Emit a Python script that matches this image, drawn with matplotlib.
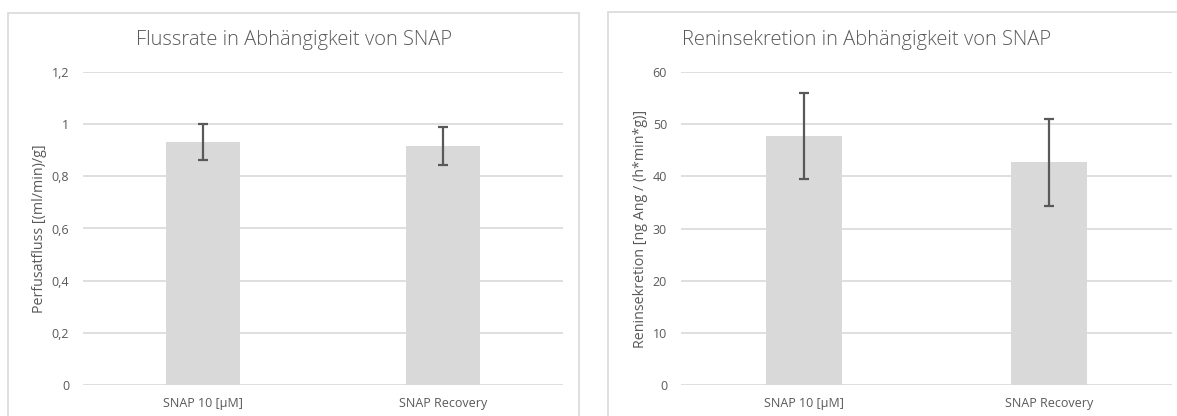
import matplotlib
matplotlib.use("Agg")
import matplotlib.pyplot as plt
from matplotlib.patches import Rectangle
from matplotlib.ticker import FuncFormatter

# Data
categories = ["SNAP 10 [µM]", "SNAP Recovery"]
flow_values = [0.932, 0.917]
flow_errors = [0.068, 0.072]
renin_values = [47.7, 42.7]
renin_errors = [8.3, 8.3]

flow_ticks = [0, 0.2, 0.4, 0.6, 0.8, 1.0, 1.2]
renin_ticks = [0, 10, 20, 30, 40, 50, 60]

TEXT = "#595959"
GRID = "#d9d9d9"
BAR = "#d9d9d9"
ERR = "#595959"

plt.rcParams["font.family"] = ["Open Sans", "DejaVu Sans"]

W, H = 1177, 416
fig = plt.figure(figsize=(W / 100, H / 100), dpi=100)


def px_box(x0, x1, y_top, y_bot):
    return [x0 / W, 1 - y_bot / H, (x1 - x0) / W, (y_bot - y_top) / H]


# chart frames
for (x0, x1, yt) in [(8, 579, 13), (608, 1190, 12)]:
    fig.add_artist(Rectangle((x0 / W, -0.05), (x1 - x0) / W, 1 - yt / H + 0.05,
                             transform=fig.transFigure, fill=False,
                             edgecolor=GRID, linewidth=1.2))


def de_fmt(v, _):
    s = f"{v:g}"
    return s.replace(".", ",")


def panel(rect, values, errors, ticks, ylabel, label_x):
    ax = fig.add_axes(rect)
    x = list(range(len(categories)))
    ax.bar(x, values, width=0.31, color=BAR, zorder=2)
    ax.errorbar(x, values, yerr=errors, fmt="none", ecolor=ERR,
                elinewidth=1.6, capsize=3.5, capthick=1.6, zorder=3)
    ax.set_xlim(-0.5, len(categories) - 0.5)
    ax.set_ylim(ticks[0], ticks[-1])
    ax.set_yticks(ticks)
    ax.yaxis.set_major_formatter(FuncFormatter(de_fmt))
    ax.set_xticks(x)
    ax.set_xticklabels(categories)
    ax.grid(axis="y", color=GRID, linewidth=1.2, zorder=0)
    ax.set_axisbelow(True)
    for sp in ax.spines.values():
        sp.set_visible(False)
    ax.tick_params(axis="both", length=0, colors=TEXT, labelsize=9)
    ax.tick_params(axis="y", pad=10)
    ax.tick_params(axis="x", pad=9)
    ax.set_ylabel(ylabel, color=TEXT, fontsize=10.3)
    ax.yaxis.set_label_coords(label_x, 0.5)
    ax.yaxis.label.set_va("center")
    return ax


ax1 = panel(px_box(83, 563, 72, 385), flow_values, flow_errors, flow_ticks,
            "Perfusatfluss [(ml/min)/g]", (40 - 83) / 480)
ax2 = panel(px_box(681, 1172, 72, 385), renin_values, renin_errors, renin_ticks,
            "Reninsekretion [ng Ang / (h*min*g)]", (640 - 681) / 491)

fig.text(294 / W, 1 - 40 / H, "Flussrate in Abhängigkeit von SNAP",
         ha="center", va="center", fontsize=14.5, color=TEXT, fontweight="light")
fig.text(867 / W, 1 - 40 / H, "Reninsekretion in Abhängigkeit von SNAP",
         ha="center", va="center", fontsize=14.5, color=TEXT, fontweight="light")

fig.savefig("out.png", dpi=100, facecolor="white")
